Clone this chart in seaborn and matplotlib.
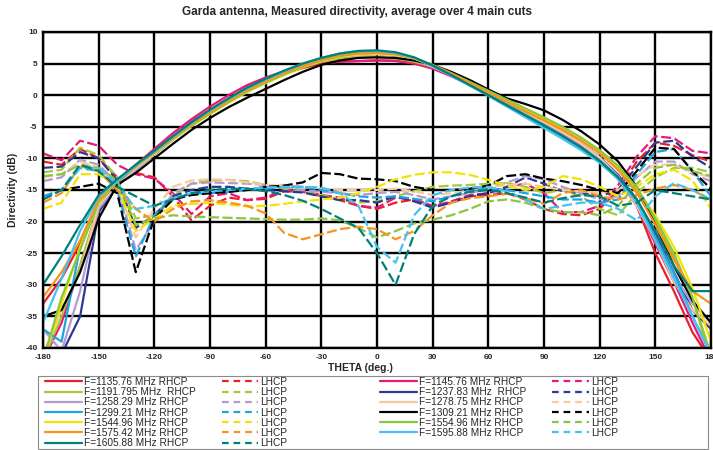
import numpy as np
import pandas as pd
import matplotlib
matplotlib.use("Agg")
import matplotlib.pyplot as plt
from matplotlib.lines import Line2D
from matplotlib.patches import Rectangle
import seaborn as sns

# ---------------- data ----------------
theta = [-180, -170, -160, -150, -140, -130, -120, -110, -100, -90, -80, -70, -60, -50, -40,
         -30, -20, -10, 0, 10, 20, 30, 40, 50, 60, 70, 80, 90, 100, 110, 120, 130, 140, 150,
         160, 170, 180]

freqs = ["1135.76", "1145.76", "1191.795", "1237.83", "1258.29", "1278.75", "1299.21",
         "1309.21", "1544.96", "1554.96", "1575.42", "1595.88", "1605.88"]

colors = ["#e8202a", "#e6197a", "#a6c83a", "#2b3990", "#b49ad0", "#f9c89b", "#1fa3dc",
          "#000000", "#f2e300", "#8cc63f", "#f7941d", "#45c2f0", "#00807a"]

labels_rhcp = ["F=1135.76 MHz RHCP", "F=1145.76 MHz RHCP", "F=1191.795 MHz  RHCP",
               "F=1237.83 MHz  RHCP", "F=1258.29 MHz RHCP", "F=1278.75 MHz RHCP",
               "F=1299.21 MHz RHCP", "F=1309.21 MHz RHCP", "F=1544.96 MHz RHCP",
               "F=1554.96 MHz RHCP", "F=1575.42 MHz RHCP", "F=1595.88 MHz RHCP",
               "F=1605.88 MHz RHCP"]

# RHCP (solid)
r1135 = [-33, -29, -23.5, -17, -14, -11.5, -9, -6.5, -4.2, -2.3, -0.5, 1.2, 2.4, 3.4, 4.3, 5.0, 5.3, 5.4, 5.5,
         5.5, 5.1, 4.3, 3.1, 1.7, 0.2, -1.3, -2.8, -4.3, -6.0, -7.8, -10.0, -13.0, -17.5, -25, -31, -37.5, -42]
r1145 = [-42, -36, -27, -17.5, -13.5, -11, -8.5, -6, -3.8, -1.8, 0, 1.6, 2.8, 3.8, 4.6, 5.1, 5.3, 5.4, 5.5,
         5.4, 5.0, 4.2, 3.0, 1.6, 0.1, -1.4, -2.9, -4.4, -6.1, -8.0, -10.3, -13.3, -17.5, -23.5, -29.5, -36, -42]
r1191 = [-42, -35, -27, -17.5, -14, -11.5, -9.2, -6.8, -4.7, -2.7, -0.9, 0.8, 2.2, 3.4, 4.5, 5.3, 5.8, 6.0, 6.0,
         5.8, 5.3, 4.5, 3.3, 1.9, 0.5, -1.0, -2.5, -3.9, -5.4, -7.1, -9.1, -11.8, -15.5, -20, -25.5, -32, -41]
r1237 = [-42, -41, -35, -18.5, -14.3, -11.8, -9.4, -7.0, -4.8, -2.8, -1.0, 0.7, 2.1, 3.4, 4.6, 5.5, 6.1, 6.4, 6.5,
         6.3, 5.6, 4.5, 3.2, 1.7, 0.2, -1.3, -2.8, -4.3, -5.9, -7.7, -9.8, -12.6, -16.5, -22, -28, -34, -37]
r1258 = [-37, -40.5, -31, -18, -14.3, -11.8, -9.4, -7.0, -4.8, -2.8, -1.0, 0.7, 2.1, 3.4, 4.6, 5.5, 6.1, 6.4, 6.5,
         6.3, 5.6, 4.5, 3.2, 1.7, 0.2, -1.3, -2.8, -4.3, -5.9, -7.7, -9.8, -12.8, -17, -22.5, -28.5, -33, -36]
r1278 = [-41, -34, -28, -17.5, -14, -11.6, -9.3, -6.9, -4.8, -2.8, -1.0, 0.7, 2.1, 3.4, 4.6, 5.5, 6.1, 6.4, 6.5,
         6.3, 5.6, 4.5, 3.2, 1.7, 0.2, -1.3, -2.8, -4.3, -5.9, -7.7, -9.9, -13, -17.5, -23, -29.5, -34, -36.5]
r1299 = [-37, -39, -24, -17, -13.8, -11.3, -9, -6.7, -4.5, -2.5, -0.7, 1.0, 2.4, 3.7, 4.9, 5.8, 6.4, 6.7, 6.8,
         6.6, 5.9, 4.7, 3.3, 1.7, 0.1, -1.5, -3.1, -4.7, -6.4, -8.2, -10.3, -13, -17, -22.5, -28, -35, -41]
r1309 = [-35, -34, -28, -19.5, -14.2, -12.3, -10.0, -7.7, -5.5, -3.6, -1.9, -0.4, 1.0, 2.4, 3.7, 4.8, 5.5, 5.9, 6.0,
         5.9, 5.5, 4.8, 3.7, 2.4, 0.9, -0.5, -1.4, -2.4, -3.9, -5.7, -7.8, -10.5, -14.5, -20.5, -27, -32.5, -36]
r1544 = [-42, -33, -24, -17, -13.5, -11.3, -9.2, -7.0, -4.9, -3.0, -1.2, 0.5, 1.9, 3.2, 4.4, 5.4, 6.1, 6.5, 6.6,
         6.4, 5.8, 4.7, 3.4, 2.0, 0.6, -0.8, -2.2, -3.6, -5.1, -6.8, -8.8, -11.3, -14.8, -19, -24, -30.5, -39]
r1554 = [-42, -32, -24.5, -16.8, -13.5, -11.3, -9.1, -6.9, -4.8, -2.9, -1.1, 0.6, 2.0, 3.3, 4.5, 5.5, 6.2, 6.6, 6.7,
         6.5, 5.9, 4.8, 3.5, 2.1, 0.7, -0.7, -2.1, -3.5, -5.0, -6.7, -8.7, -11.2, -14.6, -19.5, -25, -32, -42]
r1575 = [-32, -28, -23, -16.5, -13.5, -11.2, -9.0, -6.8, -4.6, -2.7, -0.9, 0.8, 2.2, 3.5, 4.7, 5.6, 6.3, 6.6, 6.7,
         6.5, 5.8, 4.7, 3.4, 1.9, 0.4, -1.1, -2.6, -4.0, -5.5, -7.2, -9.2, -11.8, -15.3, -20.5, -26, -31, -33]
r1595 = [-36, -29, -21.5, -16, -13.5, -11.1, -8.9, -6.6, -4.4, -2.4, -0.6, 1.1, 2.5, 3.8, 5.0, 5.9, 6.6, 7.0, 7.0,
         6.7, 5.9, 4.6, 3.1, 1.5, -0.1, -1.8, -3.5, -5.2, -6.9, -8.7, -10.7, -13.3, -17, -23, -29, -35, -41]
r1605 = [-30, -25.5, -20.5, -15.8, -13.3, -11, -8.8, -6.5, -4.3, -2.3, -0.5, 1.2, 2.6, 3.9, 5.0, 5.9, 6.6, 7.0, 7.1,
         6.8, 6.0, 4.7, 3.2, 1.6, 0.0, -1.6, -3.2, -4.8, -6.5, -8.3, -10.4, -13, -16.5, -21.5, -27, -31, -31]

# LHCP (dashed)
l1135 = [-10.5, -11, -8.5, -10, -13, -12.3, -13, -16, -19.8, -17.5, -16.2, -16.6, -16.4, -15.2, -15.3, -16, -16.6,
         -17.5, -18, -17, -16.5, -17.5, -17, -16, -15.8, -15.5, -16.5, -18, -18.8, -19, -18, -15, -10.5, -7.5, -8,
         -9.5, -10.5]
l1145 = [-9.2, -10.3, -7.2, -8, -11, -12.5, -13.2, -15.5, -18.8, -16, -15.5, -16.6, -16.2, -15, -15.2, -15.8, -16.2,
         -17.5, -17.8, -16.2, -16.5, -17.6, -16.8, -15.8, -15.5, -14.5, -14, -15.5, -18.5, -18.5, -17.5, -14.2, -9.7,
         -6.5, -6.8, -8.8, -9.2]
l1191 = [-12.2, -11.8, -8.3, -9.5, -13, -19.5, -19, -16, -14, -13.5, -13.4, -13.6, -14.2, -14.8, -15.3, -15.8, -16.5,
         -17, -16.8, -16, -15.2, -14.5, -14.3, -14.2, -14, -13.9, -14.5, -15.5, -15, -16, -18, -19, -15.5, -13, -11.5,
         -11.5, -12.2]
l1237 = [-11.5, -11.3, -9, -10, -13.5, -21, -19, -16, -15, -14.5, -14.5, -14.8, -15, -15.2, -15.4, -16, -16.6, -16.6,
         -17, -16, -16.8, -17.8, -17, -16, -15.5, -14.5, -13, -14, -15.2, -15.5, -16, -15, -11.3, -7.5, -7.2, -9.7,
         -11.5]
l1258 = [-13.6, -13, -10.2, -11, -14, -24.5, -20, -15.5, -14, -13.8, -13.9, -14, -14.2, -14.6, -15, -15.3, -15.5,
         -15.8, -15.5, -15.3, -15.8, -16.5, -16, -15.5, -14.8, -13.8, -12.8, -13.3, -14.5, -15.5, -16.5, -16, -13,
         -10.5, -10.5, -12.5, -13.6]
l1278 = [-13, -12.5, -10.5, -11.5, -14.5, -22.5, -18, -14.5, -13.5, -13.3, -13.4, -13.8, -14.2, -14.2, -14.5, -14.8,
         -15, -15, -15, -14.8, -15.2, -15.8, -15.5, -15, -14.6, -14.2, -14, -14.5, -15, -15.2, -15.5, -15, -12.8, -11,
         -11, -12.2, -13]
l1299 = [-16, -15, -11.5, -12, -15, -25.5, -19, -16.3, -15.6, -15.5, -15.3, -15, -14.8, -14.5, -14.5, -15, -15.5, -16,
         -16.2, -16, -16.4, -16.8, -16, -15, -14.8, -15, -15.5, -16, -16.5, -16.5, -17, -16.5, -12.5, -9, -8.5, -12,
         -16]
l1309 = [-15, -15, -14.5, -14, -15.5, -28, -19.5, -16.5, -15.8, -15.5, -15.3, -15, -14.5, -14.3, -13.8, -12.3, -12.5,
         -13.2, -13.3, -13.6, -14.5, -15, -15, -14.8, -14.3, -12.8, -12.5, -13.2, -13.6, -14.2, -15, -15.5, -12, -8.3,
         -8.5, -12, -14.8]
l1544 = [-18, -17, -12.5, -12.5, -14.5, -21.5, -19.5, -17.5, -17.2, -17, -17.3, -17.6, -17.5, -17.2, -16.8, -16.5,
         -16.2, -15.5, -14.5, -13.3, -12.6, -12.2, -12.2, -12.6, -13.4, -14.3, -15, -14.5, -12.8, -13.3, -14.5, -16,
         -14.5, -12.5, -11.8, -13.5, -18]
l1554 = [-12.8, -12.5, -11, -11.5, -13.5, -20.5, -19.5, -19, -19.2, -19.3, -19.4, -19.5, -19.6, -19.7, -19.7, -19.5,
         -19.8, -21, -22.5, -21.5, -20.3, -19.7, -19, -18, -16.8, -16.5, -17, -18, -18.5, -18.5, -19, -17.5, -14, -11.5,
         -11, -12, -12.8]
l1575 = [-17, -15.5, -11.2, -12, -15, -18, -20, -18, -16.8, -16.6, -17, -17.5, -18.7, -21.8, -22.8, -22, -21.2, -20.8,
         -21.2, -22.8, -21.5, -19, -17, -16.3, -16, -15.6, -16.3, -17.2, -15.5, -15, -16, -16.5, -15.8, -14.8, -14.2,
         -15, -16.6]
l1595 = [-16.5, -15, -11.5, -11.5, -14, -18, -17.5, -16.3, -15.5, -15.2, -15, -14.8, -14.6, -14.5, -14.5, -14.6,
         -15.5, -17.5, -24, -26.5, -19, -15.8, -15, -14.6, -14.5, -15.2, -16.5, -18, -17.5, -17, -17, -18, -19.8, -16,
         -13.9, -15, -16.5]
l1605 = [-16.5, -15, -11, -12, -14.5, -16, -17.5, -16.5, -15.5, -15, -14.8, -14.8, -15.2, -15.8, -16.7, -18, -19.5,
         -21, -25, -30, -22, -17.5, -16, -15.3, -15, -15.5, -16.2, -17, -16.3, -15.8, -16, -17.5, -17, -15, -15.5, -16,
         -16.5]

rhcp = [r1135, r1145, r1191, r1237, r1258, r1278, r1299, r1309, r1544, r1554, r1575, r1595, r1605]
lhcp = [l1135, l1145, l1191, l1237, l1258, l1278, l1299, l1309, l1544, l1554, l1575, l1595, l1605]

# ---------------- long table ----------------
rows = []
palette = {}
for f, c, rv, lv in zip(freqs, colors, rhcp, lhcp):
    for pol, vals in (("LHCP", lv), ("RHCP", rv)):
        key = f + " " + pol
        palette[key] = c
        for t, v in zip(theta, vals):
            rows.append((key, pol, t, v))
df = pd.DataFrame(rows, columns=["curve", "pol", "theta", "dB"])

# ---------------- plot ----------------
sns.set_style("white")
plt.rcParams["font.family"] = ["Liberation Sans", "DejaVu Sans"]
plt.rcParams["axes.unicode_minus"] = False

fig = plt.figure(figsize=(7.13, 4.5), dpi=100)
ax = fig.add_axes([43 / 713, 1 - 348 / 450, 668 / 713, 316 / 450])

sns.lineplot(data=df, x="theta", y="dB", hue="curve", style="pol", palette=palette,
             dashes={"RHCP": "", "LHCP": (4.5, 1.6)}, sort=False, estimator=None,
             linewidth=1.6, legend=False, ax=ax)

ax.set_xlim(-180, 180)
ax.set_ylim(-40, 10)
ax.set_xticks(np.arange(-180, 181, 30))
ax.set_yticks(np.arange(-40, 11, 5))
ax.grid(True, color="black", linewidth=1.7)
ax.set_axisbelow(True)
for s in ax.spines.values():
    s.set_color("black")
    s.set_linewidth(1.7)
ax.tick_params(length=0, labelsize=6, pad=4)
for lbl in ax.get_xticklabels() + ax.get_yticklabels():
    lbl.set_fontweight("bold")

ax.set_xlabel("THETA (deg.)", fontsize=7.5, fontweight="bold")
ax.xaxis.set_label_coords(0.475, -0.047)
ax.set_ylabel("Directivity (dB)", fontsize=7.5, fontweight="bold")
ax.yaxis.set_label_coords(-0.038, 0.5)

fig.text(0.5, 1 - 12 / 450, "Garda antenna, Measured directivity, average over 4 main cuts",
         ha="center", va="center", fontsize=8.5, fontweight="bold")

# ---------------- legend ----------------
idx1 = [0, 2, 4, 6, 8, 10, 12]
idx2 = [1, 3, 5, 7, 9, 11]


def make_legend(idx, x0):
    h = [Line2D([], [], color=colors[i], lw=1.6) for i in idx]
    h += [Line2D([], [], color=colors[i], lw=1.6, dashes=(3, 2.2)) for i in idx]
    lab = [labels_rhcp[i] for i in idx] + ["LHCP"] * len(idx)
    leg = fig.legend(h, lab, ncol=2, loc="upper left", bbox_to_anchor=(x0, 1 - 377 / 450),
                     frameon=False, fontsize=7.3, handlelength=3.6, handletextpad=0.2,
                     columnspacing=2.6, labelspacing=0.02, borderpad=0, borderaxespad=0)
    return leg


make_legend(idx1, 45 / 713)
make_legend(idx2, 380 / 713)
fig.patches.append(Rectangle((38 / 713, 1.5 / 450), 670 / 713, 73 / 450, transform=fig.transFigure,
                             fill=False, edgecolor="#8a8a8a", linewidth=0.8))

fig.savefig("out.png", dpi=100)
